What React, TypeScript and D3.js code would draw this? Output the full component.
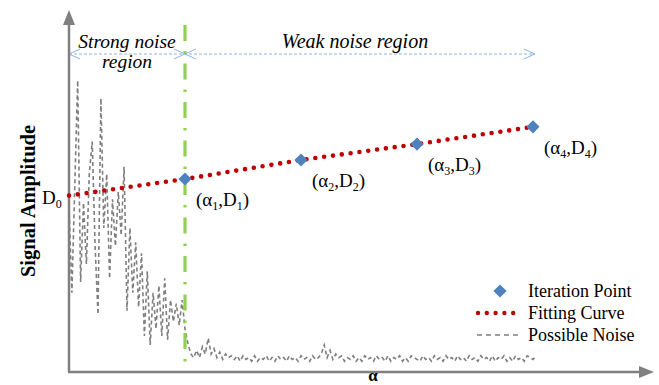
import React from "react";
import * as d3 from "d3";

const WIDTH = 659;
const HEIGHT = 385;

// iteration points (alpha position, amplitude)
const iterX = [20, 40, 60, 80];
const iterY = [53.6, 58.9, 63.3, 68.1];
const iterLabels = ["1", "2", "3", "4"];
const d0Value = 49;

// sampled noise, one value every NOISE_STEP along alpha
const NOISE_STEP = 0.5;
const noiseValues = [
  46, 22, 52, 81, 25, 47, 30, 55, 64, 35, 16, 76, 40, 55, 26, 48, 35, 50, 38, 57,
  17, 40, 22, 36, 18, 33, 10, 28, 7.5, 22, 12, 24, 10, 26, 9, 20, 14, 19, 13, 20,
  12,
  8, 5, 4, 6, 4, 7, 5, 9.4, 5, 6.5, 4, 5.5, 3.5, 5, 4, 4.5, 3.5, 4.5, 3, 4.5,
  3.5, 4, 3, 4.5, 3, 4, 3.5, 4.5, 3, 4, 3, 4.5, 3.5, 4, 3, 4.5, 3.5, 4, 3, 4.5,
  3.5, 4, 3, 4.5, 3.5, 4, 5, 7.5, 4, 6, 3.5, 5, 4, 4.5, 3, 4, 3.5, 4.5, 3, 4,
  3, 4.5, 3.5, 4, 3, 4.5, 3.5, 4, 3, 4.5, 3, 4, 3.5, 4.5, 3, 4, 3, 4.5, 4, 3.5,
  3, 4.5, 3.5, 4, 3, 4.5, 3.5, 4, 3, 4.5, 3.5, 4, 3, 4.5, 3.5, 4, 3, 4.5, 3.5, 4,
  3, 4.5, 3.5, 4, 3, 4.5, 3, 4, 3.5, 4.5, 3, 4, 3, 4.5, 3.5, 4, 3, 4.5, 4, 3.5,
  4.5,
];

const regionBoundary = 20;
const regionEnd = 81;

const SERIF = "'Liberation Serif', 'Times New Roman', serif";
const AXIS = "#808080";
const BLUE = "#4F81BD";
const RED = "#C00000";
const GREEN = "#92D050";
const ARROW = "#8EB4E3";

export default function App() {
  const x = d3.scaleLinear().domain([0, 100]).range([69, 649]);
  const y = d3.scaleLinear().domain([0, 100]).range([372, 12]);

  const noisePts: [number, number][] = noiseValues.map((v, i) => [i * NOISE_STEP, v]);
  const noisePath = d3
    .line<[number, number]>()
    .x((d) => x(d[0]))
    .y((d) => y(d[1]))(noisePts);

  const fitPts: [number, number][] = [[0, d0Value], ...iterX.map((v, i) => [v, iterY[i]] as [number, number])];
  const fitPath = d3
    .line<[number, number]>()
    .x((d) => x(d[0]))
    .y((d) => y(d[1]))(fitPts);

  const diamond = d3.symbol().type(d3.symbolDiamond2).size(110)() as string;

  const arrowY = 54;
  const x0 = x(0);
  const xb = x(regionBoundary);
  const xe = x(regionEnd) - 4;
  const head = (tip: number, dir: number) =>
    `M${tip + dir * 11},${arrowY - 5}L${tip},${arrowY}L${tip + dir * 11},${arrowY + 5}`;

  return (
    <svg width={WIDTH} height={HEIGHT} style={{ position: "absolute", left: 0, top: 0, fontFamily: SERIF }}>
      <rect width={WIDTH} height={HEIGHT} fill="#fff" />

      {/* noise */}
      <path d={noisePath ?? ""} fill="none" stroke="#7F7F7F" strokeWidth={1.6} strokeDasharray="4 3" />

      {/* region boundary */}
      <line x1={xb} x2={xb} y1={25} y2={372} stroke={GREEN} strokeWidth={3.2} strokeDasharray="16 10 2.5 10" />

      {/* region arrows */}
      <g stroke={ARROW} strokeWidth={1} fill="none">
        <line x1={x0} x2={xe} y1={arrowY} y2={arrowY} strokeDasharray="3 2" />
        <path d={head(x0, 1)} />
        <path d={head(xb, -1)} />
        <path d={head(xb, 1)} />
        <path d={head(xe, -1)} />
      </g>
      <g fontStyle="italic" textAnchor="middle" fill="#000" style={{ fontFamily: SERIF }}>
        <text x={(x0 + xb) / 2} y={48} fontSize={19.5}>Strong noise</text>
        <text x={(x0 + xb) / 2} y={68} fontSize={19.5}>region</text>
        <text x={355} y={48} fontSize={20}>Weak noise region</text>
      </g>

      {/* axes */}
      <line x1={x0} x2={x0} y1={372} y2={22} stroke={AXIS} strokeWidth={2.5} />
      <path d={`M${x0},10L${x0 - 6},25L${x0 + 6},25Z`} fill={AXIS} />
      <line x1={x0 - 1} x2={642} y1={372} y2={372} stroke={AXIS} strokeWidth={2.5} />
      <path d={`M654,372L639,366L639,378Z`} fill={AXIS} />

      {/* fitting curve */}
      <path d={fitPath ?? ""} fill="none" stroke={RED} strokeWidth={4.6} strokeLinecap="round" strokeDasharray="0 8.9" />

      {/* iteration points */}
      {iterX.map((v, i) => (
        <path key={i} d={diamond} transform={`translate(${x(v)},${y(iterY[i])})`} fill={BLUE} />
      ))}
      {iterX.map((v, i) => (
        <text key={"l" + i} x={x(v) + 11} y={y(iterY[i]) + 27} fontSize={19} fill="#000" style={{ fontFamily: SERIF }}>
          (α<tspan fontSize={12} dy={4}>{iterLabels[i]}</tspan>
          <tspan dy={-4}>,D</tspan>
          <tspan fontSize={12} dy={4}>{iterLabels[i]}</tspan>
          <tspan dy={-4}>)</tspan>
        </text>
      ))}
      <text x={42} y={y(d0Value) + 8} fontSize={19} fill="#000" style={{ fontFamily: SERIF }}>
        D<tspan fontSize={12} dy={4}>0</tspan>
      </text>

      {/* axis titles */}
      <text
        transform="translate(35,201) rotate(-90)"
        textAnchor="middle"
        fontWeight="bold"
        fontSize={20.5}
        fill="#000"
        style={{ fontFamily: SERIF }}
      >
        Signal Amplitude
      </text>
      <text x={373} y={381} textAnchor="middle" fontWeight="bold" fontSize={17} fill="#000" style={{ fontFamily: SERIF }}>
        α
      </text>

      {/* legend */}
      <path d={diamond} transform="translate(500,291)" fill={BLUE} />
      <line x1={478} x2={522} y1={313} y2={313} stroke={RED} strokeWidth={4.4} strokeLinecap="round" strokeDasharray="0 8.8" />
      <line x1={477} x2={522} y1={335} y2={335} stroke="#7F7F7F" strokeWidth={1.4} strokeDasharray="5 4" />
      <g fontSize={18} fill="#000" style={{ fontFamily: SERIF }}>
        <text x={528} y={297}>Iteration Point</text>
        <text x={528} y={319}>Fitting Curve</text>
        <text x={528} y={341}>Possible Noise</text>
      </g>
    </svg>
  );
}
